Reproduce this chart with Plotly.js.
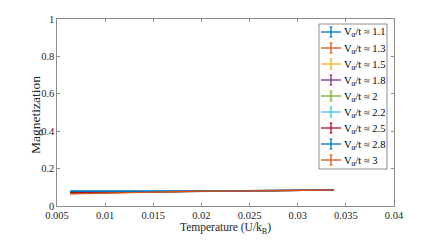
<!DOCTYPE html>
<html><head><meta charset="utf-8">
<script src="https://cdn.plot.ly/plotly-3.0.1.min.js"></script>
<style>html,body{margin:0;padding:0;background:#fff}</style>
</head><body><div id="c" style="width:436px;height:242px"></div>
<script>
const temps = [0.0064, 0.0094, 0.0125, 0.0155, 0.0185, 0.0215, 0.0246, 0.0276, 0.0306, 0.0337];
const labels = ['1.1','1.3','1.5','1.8','2','2.2','2.5','2.8','3'];
const colors = ['#0072BD','#D95319','#EDB120','#7E2F8E','#77AC30','#4DBEEE','#A2142F','#0072BD','#D95319'];
const m1 = [0.080,0.079,0.079,0.080,0.081,0.082,0.083,0.084,0.085,0.085];
const m2 = [0.066,0.070,0.073,0.076,0.078,0.080,0.082,0.083,0.084,0.085];
const m3 = [0.068,0.071,0.074,0.077,0.079,0.081,0.082,0.083,0.084,0.085];
const m4 = [0.070,0.072,0.075,0.077,0.079,0.081,0.082,0.083,0.084,0.085];
const m5 = [0.071,0.073,0.075,0.078,0.080,0.081,0.082,0.083,0.084,0.085];
const m6 = [0.078,0.077,0.078,0.079,0.080,0.081,0.082,0.083,0.084,0.085];
const m7 = [0.072,0.074,0.076,0.078,0.080,0.081,0.082,0.083,0.084,0.085];
const m8 = [0.079,0.078,0.078,0.079,0.080,0.081,0.082,0.083,0.084,0.085];
const m9 = [0.065,0.069,0.073,0.076,0.078,0.080,0.082,0.083,0.084,0.085];
const errs = [0.002,0.002,0.002,0.002,0.002,0.002,0.002,0.002,0.002,0.002];
const series = [m1,m2,m3,m4,m5,m6,m7,m8,m9];

const FONT = 'Liberation Serif, Times New Roman, serif';
const W = 436, H = 242, ML = 57, MR = 42, MT = 19, MB = 36;
const PW = W - ML - MR, PH = H - MT - MB;
const px = v => (v - ML) / PW;          // pixel x -> paper x
const py = v => (H - MB - v) / PH;      // pixel y -> paper y

const traces = series.map((m,i)=>({
  x: temps, y: m, type:'scatter', mode:'lines',
  name: 'V<sub>α</sub>/t ≈ ' + labels[i],
  line:{color:colors[i], width:1.3},
  error_y:{type:'data', array: errs, color: colors[i], thickness:0.8, width:0}
}));

// custom legend (MATLAB style)
const shapes = [], annotations = [];
const LX0 = 319, LX1 = 387, LY0 = 24, ROW = 16;
shapes.push({type:'rect', xref:'paper', yref:'paper', x0:px(LX0), x1:px(LX1), y0:py(LY0), y1:py(LY0 + ROW*labels.length + 1),
  line:{color:'#404040', width:0.6}, fillcolor:'#fff', layer:'above'});
labels.forEach((lab,i)=>{
  const cy = LY0 + 8 + ROW*i;
  shapes.push({type:'line', xref:'paper', yref:'paper', x0:px(321), x1:px(341), y0:py(cy), y1:py(cy), line:{color:colors[i], width:1.3}, layer:'above'});
  shapes.push({type:'line', xref:'paper', yref:'paper', x0:px(331), x1:px(331), y0:py(cy-5), y1:py(cy+5), line:{color:colors[i], width:1.3}, layer:'above'});
  shapes.push({type:'line', xref:'paper', yref:'paper', x0:px(329.5), x1:px(332.5), y0:py(cy-5), y1:py(cy-5), line:{color:colors[i], width:1}, layer:'above'});
  shapes.push({type:'line', xref:'paper', yref:'paper', x0:px(329.5), x1:px(332.5), y0:py(cy+5), y1:py(cy+5), line:{color:colors[i], width:1}, layer:'above'});
  annotations.push({xref:'paper', yref:'paper', x:px(342), y:py(cy+1), xanchor:'left', yanchor:'middle', showarrow:false,
    text:'V<sub>α</sub>/t ≈ ' + lab, font:{family:FONT, size:10.5, color:'#000'}});
});
// y-axis title placed as MATLAB does
annotations.push({xref:'paper', yref:'paper', x:px(35), y:py(115), xanchor:'center', yanchor:'middle', showarrow:false,
  textangle:-90, text:'Magnetization', font:{family:FONT, size:13.5, color:'#262626'}});

const axis = {
  showgrid:false, zeroline:false, showline:true, mirror:'ticks',
  linecolor:'#404040', linewidth:0.6, ticks:'inside', ticklen:3, tickcolor:'#404040', tickwidth:0.6,
  tickfont:{family:FONT, size:10.5, color:'#262626'}
};

const layout = {
  width:W, height:H,
  margin:{l:ML, r:MR, t:MT, b:MB},
  paper_bgcolor:'#fff', plot_bgcolor:'#fff',
  font:{family:FONT, color:'#262626'},
  xaxis: Object.assign({}, axis, {range:[0.005,0.04], dtick:0.005, tick0:0.005,
    title:{text:'Temperature (U/k<sub>B</sub>)', font:{family:FONT, size:11.5}, standoff:0}}),
  yaxis: Object.assign({}, axis, {range:[0,1], dtick:0.2}),
  showlegend:false,
  shapes: shapes,
  annotations: annotations
};
Plotly.newPlot('c', traces, layout, {staticPlot:true, displayModeBar:false});
</script></body></html>
